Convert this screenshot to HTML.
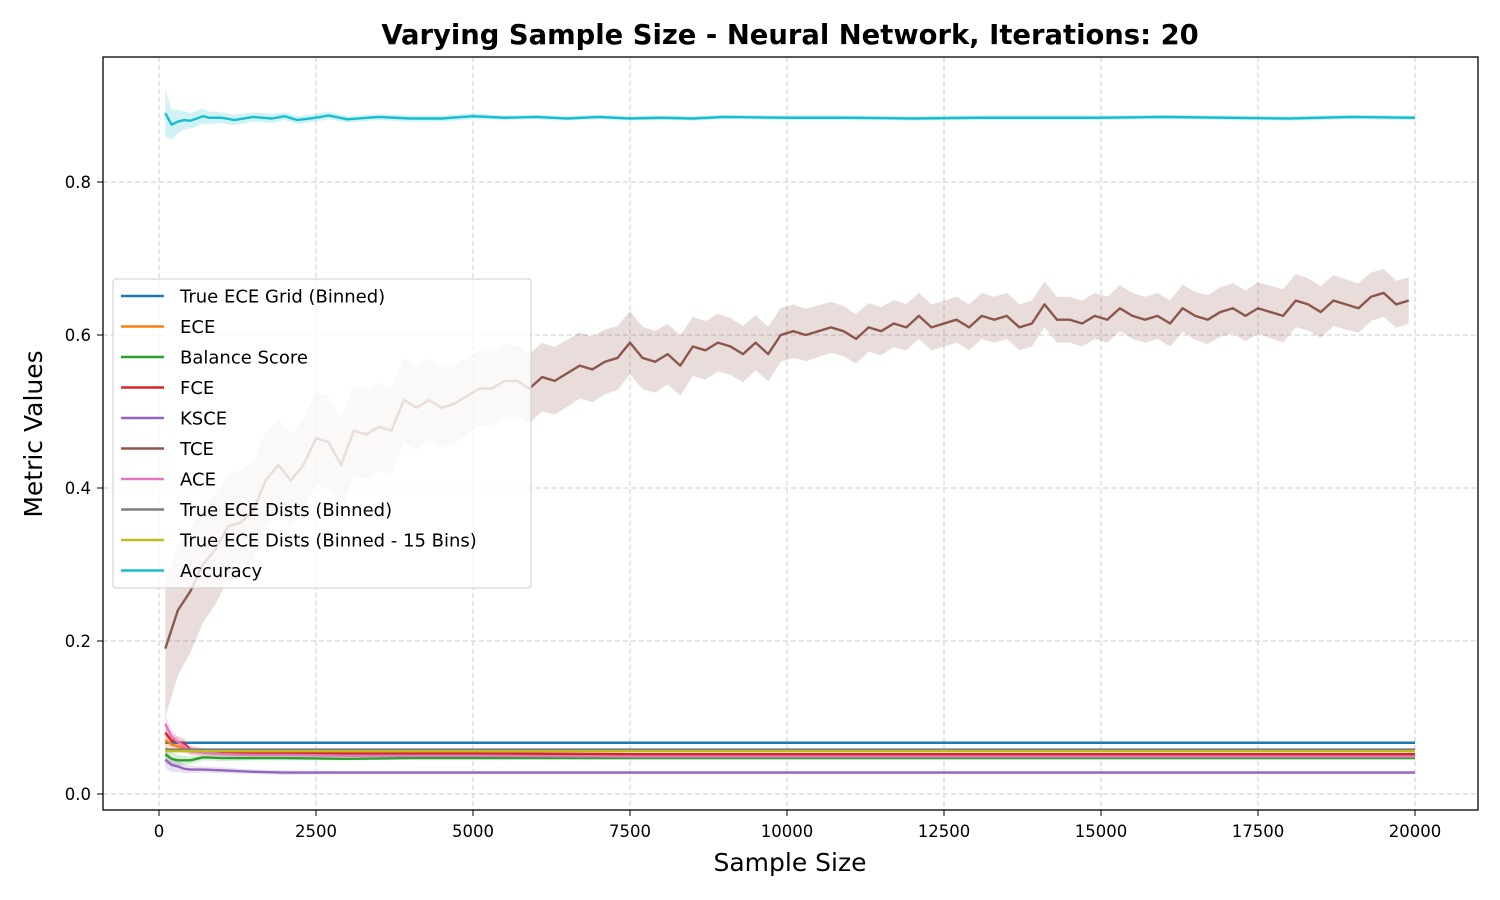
<!DOCTYPE html>
<html><head><meta charset="utf-8"><style>
body{margin:0;background:#fff}
svg{display:block;font-family:"DejaVu Sans","Liberation Sans",sans-serif}
</style></head><body>
<svg id="chart" width="1500" height="900" viewBox="0 0 1500 900" xmlns="http://www.w3.org/2000/svg">
<rect width="1500" height="900" fill="#fff"/>
<text x="790" y="44" text-anchor="middle" font-size="27.4" font-weight="bold">Varying Sample Size - Neural Network, Iterations: 20</text>
<text x="790" y="871" text-anchor="middle" font-size="25">Sample Size</text>
<text transform="translate(42,434) rotate(-90)" text-anchor="middle" font-size="25">Metric Values</text>
<g id="grid"></g>
<g id="bands"></g>
<g id="lines"></g>
<rect x="103" y="57" width="1375" height="753" fill="none" stroke="#000" stroke-width="1.3"/>
<g id="ticks"></g>
<g id="legend"></g>
</svg>
<script>
const xTicks=[0,2500,5000,7500,10000,12500,15000,17500,20000];
const yTicks=[0.0,0.2,0.4,0.6,0.8];
const yTickLabels=["0.0","0.2","0.4","0.6","0.8"];
const tceX=[];for(let v=100;v<20000;v+=200)tceX.push(v);
const tceVals=[0.19,0.24,0.265,0.30,0.32,0.35,0.355,0.37,0.41,0.43,0.41,0.43,0.465,0.46,0.43,0.475,0.47,0.48,0.475,0.515,0.505,0.515,0.505,0.51,0.52,0.53,0.53,0.54,0.54,0.53,0.545,0.54,0.55,0.56,0.555,0.565,0.57,0.59,0.57,0.565,0.575,0.56,0.585,0.58,0.59,0.585,0.575,0.59,0.575,0.60,0.605,0.60,0.605,0.61,0.605,0.595,0.61,0.605,0.615,0.61,0.625,0.61,0.615,0.62,0.61,0.625,0.62,0.625,0.61,0.615,0.64,0.62,0.62,0.615,0.625,0.62,0.635,0.625,0.62,0.625,0.615,0.635,0.625,0.62,0.63,0.635,0.625,0.635,0.63,0.625,0.645,0.64,0.63,0.645,0.64,0.635,0.65,0.655,0.64,0.645];
const tceBandX=[100,500,1000,2000,3000,4000,5000,6000,8000,10000,12000,14000,16000,18000,20000];
const tceBand=[0.09,0.08,0.07,0.06,0.06,0.055,0.05,0.045,0.04,0.035,0.03,0.03,0.03,0.035,0.03];
const accX=[100,200,300,400,500,700,800,1000,1200,1500,1800,2000,2200,2500,2700,3000,3500,4000,4500,5000,5500,6000,6500,7000,7500,8000,8500,9000,10000,11000,12000,13000,14000,15000,16000,17000,18000,19000,20000];
const accVals=[0.89,0.875,0.879,0.881,0.880,0.886,0.884,0.884,0.881,0.885,0.883,0.886,0.881,0.884,0.887,0.882,0.885,0.883,0.883,0.886,0.884,0.885,0.883,0.885,0.883,0.884,0.883,0.885,0.884,0.884,0.883,0.884,0.884,0.884,0.885,0.884,0.883,0.885,0.884];
const accBand=[0.03,0.02,0.015,0.012,0.01,0.01,0.008,0.007,0.007,0.006,0.006,0.005,0.005,0.005,0.005,0.004,0.004,0.004,0.004,0.004,0.003,0.003,0.003,0.003,0.003,0.003,0.003,0.003,0.003,0.003,0.003,0.003,0.003,0.003,0.003,0.003,0.003,0.003,0.003];
const mX=[100,200,300,400,500,700,1000,1500,2000,3000,4000,5000,7500,10000,12500,15000,17500,20000];
const gridVals=[0.067,0.067,0.067,0.067,0.067,0.067,0.067,0.067,0.067,0.067,0.067,0.067,0.067,0.067,0.067,0.067,0.067,0.067];
const eceVals=[0.07,0.065,0.062,0.06,0.056,0.055,0.054,0.052,0.053,0.052,0.052,0.052,0.051,0.051,0.051,0.051,0.051,0.051];
const balVals=[0.052,0.046,0.044,0.044,0.044,0.048,0.047,0.047,0.047,0.046,0.047,0.047,0.047,0.047,0.047,0.047,0.047,0.047];
const fceVals=[0.08,0.07,0.068,0.066,0.058,0.056,0.055,0.054,0.054,0.053,0.053,0.053,0.052,0.052,0.052,0.052,0.052,0.052];
const kscVals=[0.045,0.038,0.036,0.033,0.032,0.032,0.031,0.029,0.028,0.028,0.028,0.028,0.028,0.028,0.028,0.028,0.028,0.028];
const aceVals=[0.092,0.075,0.068,0.063,0.056,0.054,0.052,0.051,0.051,0.050,0.050,0.050,0.049,0.049,0.049,0.049,0.049,0.049];
const distVals=[0.058,0.058,0.058,0.058,0.058,0.058,0.058,0.058,0.058,0.058,0.058,0.058,0.058,0.058,0.058,0.058,0.058,0.058];
const d15Vals=[0.056,0.056,0.056,0.056,0.056,0.056,0.056,0.056,0.056,0.056,0.056,0.056,0.056,0.056,0.056,0.056,0.056,0.056];
const minorBand=[0.012,0.009,0.007,0.006,0.005,0.004,0.004,0.003,0.003,0.002,0.002,0.002,0.002,0.002,0.002,0.002,0.002,0.002];
const legendLabels=["True ECE Grid (Binned)","ECE","Balance Score","FCE","KSCE","TCE","ACE","True ECE Dists (Binned)","True ECE Dists (Binned - 15 Bins)","Accuracy"];

const NS="http://www.w3.org/2000/svg";
const X=v=>159+v*(1256/20000);
const Y=v=>794-v*765;
function mk(tag,attrs,parent){const e=document.createElementNS(NS,tag);for(const k in attrs)e.setAttribute(k,attrs[k]);parent.appendChild(e);return e;}
function interp(xs,ys,x){if(x<=xs[0])return ys[0];for(let i=1;i<xs.length;i++){if(x<=xs[i]){const t=(x-xs[i-1])/(xs[i]-xs[i-1]);return ys[i-1]+t*(ys[i]-ys[i-1]);}}return ys[ys.length-1];}
const grid=document.getElementById('grid'),ticks=document.getElementById('ticks');
xTicks.forEach(t=>{
  const l=mk('line',{x1:X(t),x2:X(t),y1:57,y2:810,stroke:'#ccc','stroke-dasharray':'5,3','stroke-width':1},grid);
  
  
  mk('line',{x1:X(t),x2:X(t),y1:810,y2:816,stroke:'#000'},ticks);
  const tx=mk('text',{x:X(t),y:837,'text-anchor':'middle','font-size':16.5},ticks);tx.textContent=t;
  
  
});
yTicks.forEach((t,i)=>{
  const l=mk('line',{x1:103,x2:1478,y1:Y(t),y2:Y(t),stroke:'#ccc','stroke-dasharray':'5,3','stroke-width':1},grid);
  
  
  mk('line',{x1:97,x2:103,y1:Y(t),y2:Y(t),stroke:'#000'},ticks);
  const tx=mk('text',{x:91,y:Y(t)+6,'text-anchor':'end','font-size':16.5},ticks);tx.textContent=yTickLabels[i];
  
  
});
const bands=document.getElementById('bands'),lines=document.getElementById('lines');
function series(name,xs,ys,bw,color,bandOpacity){
  const up=xs.map((x,i)=>X(x)+','+Y(ys[i]+bw[i])).join(' ');
  const lo=xs.map((x,i)=>X(x)+','+Y(ys[i]-bw[i])).reverse().join(' ');
  const b=mk('polygon',{points:up+' '+lo,fill:color,'fill-opacity':bandOpacity,stroke:'none'},bands);
  
  
  const p=mk('polyline',{points:xs.map((x,i)=>X(x)+','+Y(ys[i])).join(' '),fill:'none',stroke:color,'stroke-width':2.4,'stroke-linejoin':'round'},lines);
  
  
}
const zero=mX.map(()=>0);
series('true-ece-grid',mX,gridVals,zero,'#1f77b4',0.2);
series('ece',mX,eceVals,minorBand,'#ff7f0e',0.2);
series('balance-score',mX,balVals,minorBand,'#2ca02c',0.2);
series('fce',mX,fceVals,minorBand,'#d62728',0.2);
series('ksce',mX,kscVals,minorBand,'#9467bd',0.2);
series('tce',tceX,tceVals,tceX.map(x=>interp(tceBandX,tceBand,x)),'#8c564b',0.2);
series('ace',mX,aceVals,minorBand,'#e377c2',0.2);
series('true-ece-dists',mX,distVals,zero,'#7f7f7f',0.2);
series('true-ece-dists-15',mX,d15Vals,zero,'#bcbd22',0.2);
series('accuracy',accX,accVals,accBand,'#17becf',0.2);
const colors=['#1f77b4','#ff7f0e','#2ca02c','#d62728','#9467bd','#8c564b','#e377c2','#7f7f7f','#bcbd22','#17becf'];
const lg=document.getElementById('legend');
const box=mk('rect',{x:113,y:279,width:418,height:309,rx:3,fill:'#fff','fill-opacity':0.8,stroke:'#ccc','stroke-width':1},lg);


legendLabels.forEach((s,i)=>{
  const y=296+i*30.5;
  const g=mk('g',{},lg);
  
  
  mk('line',{x1:121,x2:164,y1:y,y2:y,stroke:colors[i],'stroke-width':2.4},g);
  const t=mk('text',{x:180,y:y+6.5,'font-size':18},g);t.textContent=s;
});
</script>
</body></html>
